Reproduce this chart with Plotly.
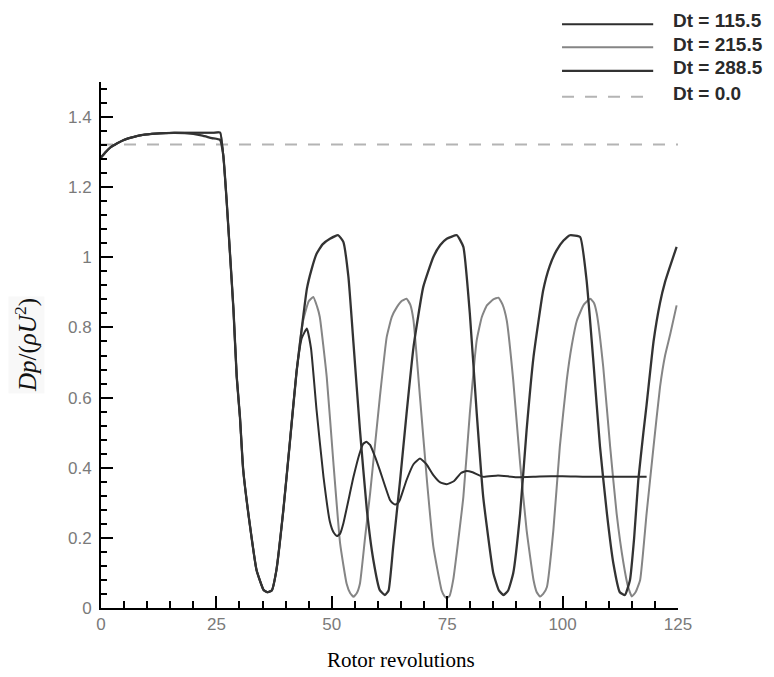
import plotly.graph_objects as go

# Pressure-drop coefficient versus rotor revolutions for several Dt values.
series_names = ["Dt = 115.5", "Dt = 215.5", "Dt = 288.5", "Dt = 0.0"]
series_colors = ["#2e2e2e", "#858585", "#333333", "#b4b4b4"]

# Start-up part shared by the three transient runs
x_head = [0, 1, 2, 3.5, 5, 7, 9, 12, 16]
y_head = [1.285, 1.300, 1.313, 1.325, 1.335, 1.343, 1.349, 1.353, 1.355]

x_plateau = [20, 24, 25.8]
y_plateau = [1.355, 1.355, 1.356]
x_plateau_dip = [20, 22, 24, 25.8]
y_plateau_dip = [1.352, 1.347, 1.340, 1.335]

x_drop = [26.5, 27.2, 27.9, 28.7, 29.4, 30.1, 30.8, 32.3, 33.7, 35.2, 36.0,
          37.0, 38.0, 39.5, 40.9, 42.4]
y_drop = [1.29, 1.165, 1.02, 0.85, 0.66, 0.545, 0.395, 0.232, 0.108, 0.052,
          0.045, 0.05, 0.108, 0.279, 0.47, 0.678]

# Dt = 115.5 : damped oscillation settling near 0.37
x_a = [43.5, 44.6, 45.5, 46.7, 48.2, 49.6, 50.4, 51.1, 51.8, 52.5, 54.7,
       56.0, 56.8, 57.5, 58.3, 59.4, 60.4, 62.6, 63.3, 63.8, 64.4, 64.8, 66.2,
       67.7, 69.1, 70.5, 72, 73.5, 74.9, 76.5, 78, 79.2, 80.5, 82.8, 86, 90,
       95, 100, 105, 110, 114, 118.2]
y_a = [0.77, 0.797, 0.74, 0.564, 0.374, 0.245, 0.215, 0.205, 0.212, 0.241,
       0.374, 0.44, 0.468, 0.474, 0.465, 0.43, 0.393, 0.308, 0.298, 0.295,
       0.3, 0.31, 0.365, 0.41, 0.426, 0.41, 0.379, 0.358, 0.353, 0.362,
       0.385, 0.391, 0.387, 0.374, 0.378, 0.373, 0.375, 0.376, 0.374, 0.374,
       0.374, 0.374]

# Dt = 215.5 : sustained oscillation, period about 20 revolutions
x_b = [43.8, 45, 46, 46.8, 47.4, 48.9, 50.3, 51.8, 53.2, 54.0, 54.7, 55.4,
       56.1, 57.2, 58.3, 60.4, 61.9, 63.0, 64.1, 65.2, 66.2, 67.0, 67.7, 69.1,
       70.6, 72, 73.8, 74.4, 74.9, 75.5, 76.3, 78.5, 79.9, 81.4, 82.5, 83.6,
       85.0, 86.1, 87.0, 87.9, 89.3, 90.8, 92.2, 93.7, 94.4, 95.1, 95.8, 96.6,
       98, 99.4, 100.9, 102.0, 103.1, 104.6, 106, 106.8, 107.4, 108.8, 110.3,
       111.7, 113.2, 114.2, 115, 115.8, 116.8, 118.2, 119.7, 121.1, 122.2,
       123.3, 124.7]
y_b = [0.82, 0.875, 0.887, 0.86, 0.83, 0.659, 0.422, 0.184, 0.07, 0.042,
       0.032, 0.042, 0.07, 0.2, 0.327, 0.6, 0.773, 0.83, 0.858, 0.876, 0.882,
       0.865, 0.82, 0.602, 0.365, 0.175, 0.05, 0.034, 0.028, 0.034, 0.08,
       0.317, 0.555, 0.764, 0.83, 0.863, 0.88, 0.885, 0.865, 0.82, 0.65,
       0.412, 0.222, 0.08, 0.045, 0.033, 0.04, 0.06, 0.222, 0.46, 0.65, 0.75,
       0.82, 0.865, 0.882, 0.87, 0.84, 0.688, 0.46, 0.27, 0.127, 0.06, 0.033,
       0.045, 0.08, 0.27, 0.46, 0.63, 0.72, 0.78, 0.863]

# Dt = 288.5 : sustained oscillation, period about 25.5 revolutions
x_c = [43.8, 44.6, 45.6, 46.7, 48.0, 49.6, 51.4, 52.5, 53.6, 54.7, 56.1,
       57.6, 59, 60.4, 61.5, 62.3, 63.3, 64.8, 66.2, 67.7, 69.8, 72, 73.5,
       74.9, 77.1, 78.5, 79.9, 81.4, 82.8, 85, 86.2, 87.2, 88.2, 89.3, 90.8,
       92.2, 93.7, 95.8, 97.2, 98.7, 100.2, 101.6, 103.8, 105.2, 106.7, 108.1,
       109.6, 111, 112.4, 113.5, 114.6, 115.5, 116.4, 117.5, 118.2, 119.7,
       121.1, 122.2, 123.3, 124.7]
y_c = [0.83, 0.91, 0.965, 1.01, 1.037, 1.053, 1.063, 1.044, 0.944, 0.754,
       0.507, 0.279, 0.137, 0.051, 0.037, 0.05, 0.175, 0.365, 0.555, 0.744,
       0.915, 1.001, 1.035, 1.053, 1.063, 1.03, 0.84, 0.555, 0.317, 0.099,
       0.05, 0.037, 0.05, 0.099, 0.27, 0.507, 0.716, 0.906, 0.975, 1.02,
       1.048, 1.063, 1.058, 0.934, 0.697, 0.46, 0.27, 0.127, 0.045, 0.037,
       0.08, 0.2, 0.365, 0.5, 0.58, 0.76, 0.87, 0.93, 0.975, 1.03]

# Dt = 0.0 : steady reference level
x_ref = [0, 125]
y_ref = [1.322, 1.322]

series_x = [x_head + x_plateau + x_drop + x_a,
            x_head + x_plateau + x_drop + x_b,
            x_head + x_plateau_dip + x_drop + x_c,
            x_ref]
series_y = [y_head + y_plateau + y_drop + y_a,
            y_head + y_plateau + y_drop + y_b,
            y_head + y_plateau_dip + y_drop + y_c,
            y_ref]
series_dash = ["solid", "solid", "solid", "12px,11px"]
series_width = [2, 2, 2.3, 2]

fig = go.Figure()
# draw the lighter curves first so the dark ones sit on top
for i in [3, 1, 0, 2]:
    fig.add_trace(go.Scatter(
        x=series_x[i], y=series_y[i], mode="lines", name=series_names[i],
        line=dict(color=series_colors[i], width=series_width[i],
                  dash=series_dash[i], shape="spline", smoothing=0.4),
        showlegend=False))

# Hand-placed legend at the top right (longer line samples than the default)
row_y = [1.110, 1.066, 1.021, 0.972]
for i, name in enumerate(series_names):
    fig.add_shape(type="line", xref="paper", yref="paper",
                  x0=0.799, x1=0.957, y0=row_y[i], y1=row_y[i],
                  line=dict(color=series_colors[i], width=series_width[i],
                            dash=series_dash[i]))
    fig.add_annotation(xref="paper", yref="paper", x=0.988,
                       y=row_y[i] + 0.006, xanchor="left", yanchor="middle",
                       text="<b>" + name + "</b>", showarrow=False,
                       font=dict(family="Liberation Sans", size=19,
                                 color="#2a2a2a"))

# Axis titles
fig.add_annotation(xref="paper", yref="paper", x=0.52, y=-0.099,
                   xanchor="center", yanchor="middle", showarrow=False,
                   text="Rotor revolutions",
                   font=dict(family="Liberation Serif", size=21, color="#000"))
fig.add_annotation(xref="paper", yref="paper", x=-0.13, y=0.5,
                   xanchor="center", yanchor="middle", showarrow=False,
                   textangle=-90, bgcolor="#f8f8f8",
                   text="<i>Dp</i>/(<i>ρU</i><sup>2</sup>)",
                   font=dict(family="Liberation Serif", size=25, color="#111"))

tick_font = dict(family="Liberation Sans", size=17, color="#7a7a7a")
fig.update_xaxes(range=[0, 125], tickmode="linear", tick0=0, dtick=25,
                 ticks="inside", ticklen=12, tickwidth=2, tickcolor="black",
                 minor=dict(ticks="inside", dtick=5, ticklen=7, tickwidth=2,
                            tickcolor="black"),
                 showline=True, linecolor="black", linewidth=2,
                 showgrid=False, zeroline=False, tickfont=tick_font)
fig.update_yaxes(range=[0, 1.5], tickmode="linear", tick0=0, dtick=0.2,
                 ticks="inside", ticklen=12, tickwidth=2, tickcolor="black",
                 minor=dict(ticks="inside", dtick=0.04, ticklen=6,
                            tickwidth=2, tickcolor="black"),
                 showline=True, linecolor="black", linewidth=2,
                 showgrid=False, zeroline=False, tickfont=tick_font,
                 ticklabelstandoff=4)

fig.update_layout(width=774, height=677,
                  margin=dict(l=101, r=96, t=82, b=69),
                  plot_bgcolor="white", paper_bgcolor="white",
                  showlegend=False)

fig.write_html("out.html")
